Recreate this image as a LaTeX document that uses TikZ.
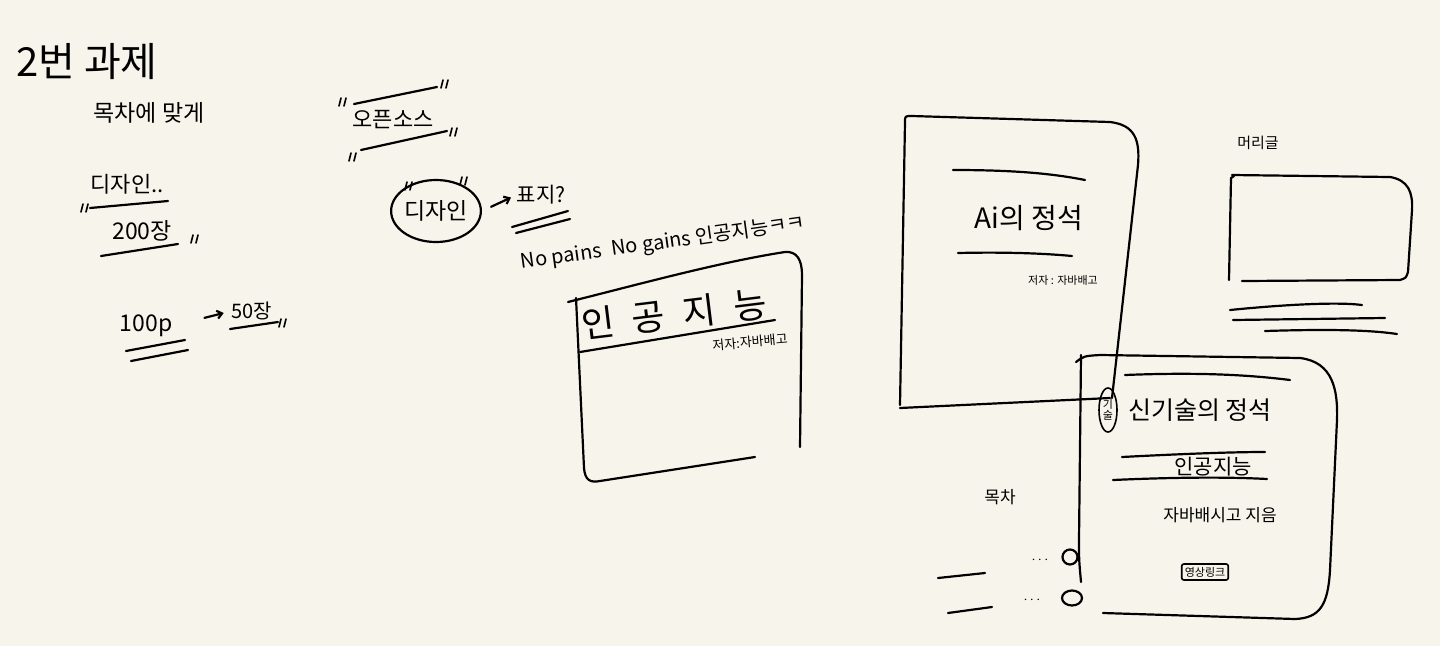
\documentclass[tikz,border=0pt]{standalone}
\usepackage{fontspec}
\newfontfamily\kr{Noto Sans CJK KR}
\usetikzlibrary{arrows.meta,shapes.geometric}
\definecolor{paper}{RGB}{247,245,235}
\begin{document}
\begin{tikzpicture}[x=1pt,y=-1pt,line cap=round,line join=round,
  ink/.style={line width=2.2pt,black},
  thin ink/.style={line width=1.6pt,black},
  hw/.style={inner sep=0pt,font=\kr\fontsize{#1}{#1}\selectfont},
  arr/.style={ink,-{Straight Barb[length=5pt,width=8pt]}},
  qmark/.pic={\draw[thin ink] (-3,4) -- (-1,-4) (2,4) -- (4,-4);}]
\fill[paper] (0,0) rectangle (1440,646);
\useasboundingbox (0,0) rectangle (1440,646);

% ---------- left notes
\node[hw=40] (title) at (87,62) {2번 과제};
\node[hw=23] (toc) at (149,113) {목차에 맞게};
\node[hw=22] (dz) at (127,184) {디자인..};
\draw[ink] (90,208) -- (168,201);
\pic at (84,208) {qmark};
\node[hw=23] (p200) at (142,231) {200장};
\draw[ink] (101,256) -- (178,244);
\pic at (194,239) {qmark};
\node[hw=23] (p100) at (146,326) {100p};
\draw[ink] (126,351) -- (185,340);
\draw[ink] (131,361) -- (188,350);
\node[hw=20] (p50) at (252,311) {50장};
\draw[arr,shorten <=33pt,shorten >=8pt] (p100.east) -- (p50.west);
\draw[ink] (230,329) -- (278,322);
\pic at (282,323) {qmark};

% ---------- open source / design
\node[hw=22] (oss) at (393,120) {오픈소스};
\draw[ink] (354,104) -- (437,87);
\pic at (342,102) {qmark};
\pic at (444,84) {qmark};
\draw[ink] (361,150) -- (447,131);
\pic at (352,157) {qmark};
\pic at (453,132) {qmark};
\node[hw=23,draw,ellipse,line width=2.2pt,minimum width=87pt,minimum height=62pt] (design) at (436,211) {디자인};
\pic at (408,186) {qmark};
\pic at (463,181) {qmark};
\node[hw=21] (cover) at (541,195) {표지?};
\draw[arr,shorten <=10pt,shorten >=6pt] (design.east) -- (cover.west);
\draw[ink] (512,227) -- (568,211);
\draw[ink] (516,233) -- (570,219);
\node[hw=20,rotate=8] (motto) at (663,243) {No pains\enspace No gains 인공지능ㅋㅋ};

% ---------- book 1
\draw[ink] (568,302) .. controls (640,284) and (720,262) .. (785,252)
  .. controls (797,251) and (802,260) .. (802,275) -- (800,447);
\draw[ink] (576,298) -- (584,468) .. controls (585,480) and (590,483) .. (600,481) -- (755,457);
\node[hw=36,rotate=7] (b1title) at (674,314) {인\hspace{18pt}공\hspace{18pt}지\hspace{18pt}능};
\draw[ink] (580,352) -- (775,320);
\node[hw=13,rotate=5] (b1auth) at (750,342) {저자:자바배고};

% ---------- book 2
\draw[ink] (900,405) -- (905,122) .. controls (905,116) .. (912,116) -- (1110,122)
  .. controls (1135,125) and (1140,140) .. (1138,165) -- (1112,398);
\draw[ink] (900,408) -- (1110,398);
\draw[ink] (953,170) .. controls (1010,170) and (1050,173) .. (1085,180);
\node[hw=28] (b2title) at (1029,218) {Ai의 정석};
\draw[ink] (958,253) .. controls (1000,252) and (1040,253) .. (1072,256);
\node[hw=11] (b2auth) at (1063,280) {저자 : 자바배고};

% ---------- book 3
\draw[ink] (1081,582) .. controls (1079,560) .. (1079,540) -- (1081,355);
\draw[ink] (1076,362) .. controls (1084,356) .. (1100,355) -- (1300,358)
  .. controls (1333,362) and (1338,390) .. (1337,420) -- (1330,570)
  .. controls (1328,605) and (1320,618) .. (1295,619) -- (1103,613);
\draw[ink] (1125,375) .. controls (1200,372) and (1250,375) .. (1290,380);
\node[draw,ellipse,thin ink,minimum width=18pt,minimum height=44pt,inner sep=0pt,
  font=\kr\fontsize{11}{11}\selectfont,align=center] (circ) at (1108,410) {기\\술};
\node[hw=25] (b3title) at (1200,410) {신기술의 정석};
\draw[ink] (1122,457) .. controls (1180,454) and (1230,452) .. (1265,452);
\node[hw=21] (b3sub) at (1213,467) {인공지능};
\draw[ink] (1113,480) .. controls (1180,477) and (1230,477) .. (1267,479);
\node[hw=17] (b3auth) at (1220,515) {자바배시고 지음};
\node[draw,thin ink,rounded corners=2pt,inner sep=3pt,font=\kr\fontsize{11}{11}\selectfont] (video) at (1205,572) {영상링크};

% ---------- table of contents
\node[hw=17] (mokcha) at (1000,497) {목차};
\draw[ink] (938,578) -- (985,573);
\node[hw=14] (dots1) at (1040,560) {$\cdots$};
\node[draw,ellipse,ink,minimum width=15pt,minimum height=15pt,inner sep=0pt] (o1) at (1070,557) {};
\draw[ink] (948,613) -- (992,607);
\node[hw=14] (dots2) at (1032,600) {$\cdots$};
\node[draw,ellipse,ink,minimum width=20pt,minimum height=15pt,inner sep=0pt] (o2) at (1072,598) {};

% ---------- header
\node[hw=15] (head) at (1258,143) {머리글};
\draw[ink] (1229,280) -- (1231,178) -- (1234,176);
\draw[ink] (1232,175) -- (1390,177) .. controls (1408,180) and (1413,192) .. (1412,210)
  -- (1408,272) .. controls (1406,278) .. (1400,280) -- (1242,281);
\draw[ink] (1230,310) .. controls (1290,304) and (1340,302) .. (1362,305);
\draw[ink] (1233,320) -- (1385,318);
\draw[ink] (1265,331) .. controls (1330,329) and (1370,330) .. (1397,334);
\end{tikzpicture}
\end{document}
